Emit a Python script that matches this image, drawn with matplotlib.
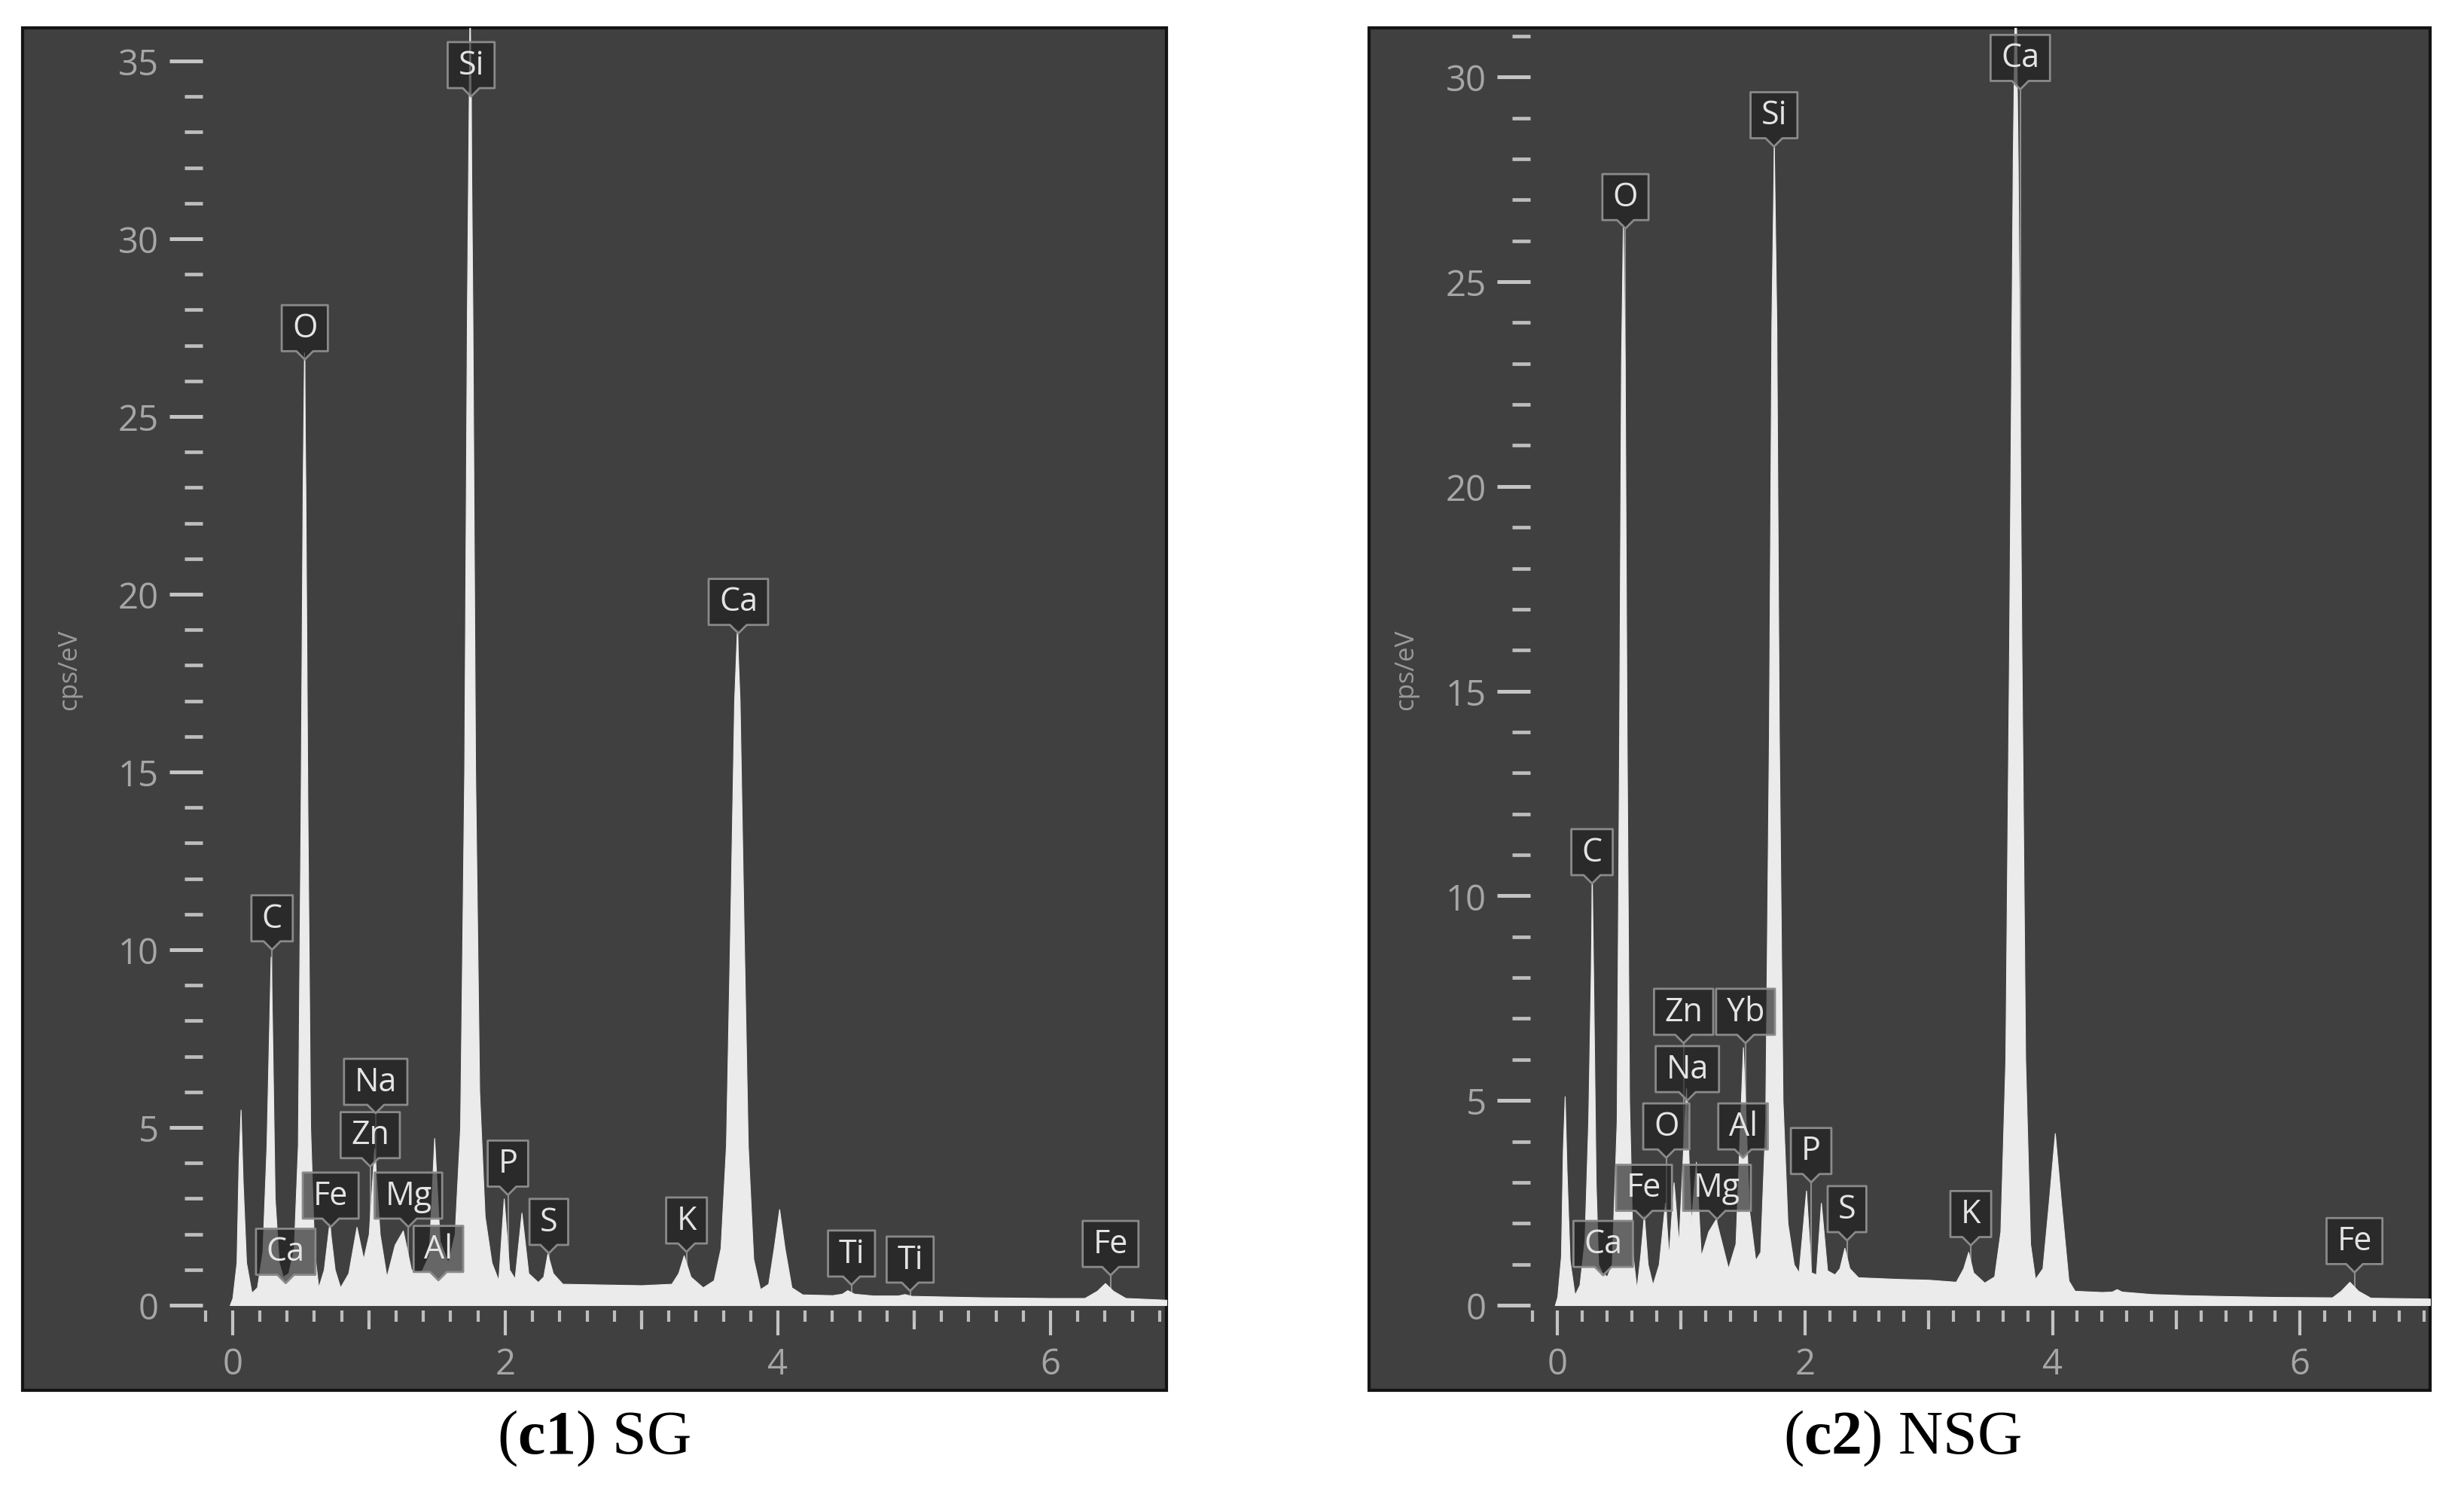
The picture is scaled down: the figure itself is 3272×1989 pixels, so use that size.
import matplotlib
matplotlib.use('Agg')
import matplotlib.pyplot as plt
from matplotlib.patches import Polygon, Rectangle
from matplotlib.transforms import Affine2D, ScaledTranslation
from matplotlib.ticker import MultipleLocator

plt.rcParams['font.family'] = ['Open Sans', 'DejaVu Sans']
plt.rcParams['mathtext.fontset'] = 'custom'
plt.rcParams['mathtext.rm'] = 'Liberation Serif'
plt.rcParams['mathtext.bf'] = 'Liberation Serif:bold'

# ---- SG spectrum (keV, cps/eV)
sg_kev = [-0.02, 0.00, 0.03, 0.045, 0.06, 0.075, 0.10, 0.14, 0.18, 0.22, 0.25, 0.27, 0.28, 0.29,
          0.31, 0.34, 0.37, 0.41, 0.45, 0.48, 0.50, 0.515, 0.525, 0.535, 0.55, 0.57, 0.60, 0.63,
          0.67, 0.71, 0.75, 0.79, 0.85, 0.91, 0.96, 1.00, 1.04, 1.08, 1.13, 1.19, 1.25, 1.31,
          1.38, 1.44, 1.48, 1.52, 1.58, 1.63, 1.67, 1.70, 1.72, 1.74, 1.76, 1.78, 1.81, 1.85,
          1.90, 1.95, 1.99, 2.03, 2.07, 2.12, 2.17, 2.24, 2.28, 2.31, 2.35, 2.42, 2.70, 3.00,
          3.22, 3.27, 3.31, 3.36, 3.45, 3.53, 3.58, 3.62, 3.65, 3.68, 3.70, 3.72, 3.75, 3.78,
          3.82, 3.87, 3.93, 3.97, 4.01, 4.05, 4.10, 4.18, 4.40, 4.47, 4.51, 4.56, 4.70, 4.88,
          4.93, 4.98, 5.50, 6.00, 6.25, 6.34, 6.40, 6.46, 6.55, 6.85]
sg_cps = [0.0, 0.2, 1.2, 4.0, 5.5, 3.5, 1.2, 0.35, 0.5, 1.5, 4.5, 8.0, 9.8, 8.0,
          3.0, 1.2, 0.8, 0.9, 1.6, 4.5, 14.0, 23.0, 26.8, 23.0, 14.0, 5.0, 1.5, 0.5,
          1.0, 2.3, 1.0, 0.5, 0.9, 2.2, 1.3, 2.0, 4.4, 2.0, 0.8, 1.7, 2.1, 1.0,
          0.9, 1.4, 4.7, 1.8, 1.2, 2.0, 5.0, 15.0, 28.0, 37.0, 28.0, 15.0, 6.0, 2.5,
          1.2, 0.7, 3.0, 1.0, 0.75, 2.6, 0.9, 0.65, 0.8, 1.45, 0.9, 0.6, 0.58, 0.56,
          0.6, 0.9, 1.4, 0.8, 0.5, 0.7, 1.6, 4.5, 10.5, 17.0, 19.0, 17.0, 10.5, 4.5,
          1.3, 0.45, 0.6, 1.6, 2.7, 1.6, 0.5, 0.3, 0.28, 0.32, 0.42, 0.32, 0.27, 0.27,
          0.31, 0.26, 0.22, 0.2, 0.2, 0.4, 0.62, 0.4, 0.2, 0.15]
sg_names = ['Ca', 'Zn', 'Na', 'Fe', 'Mg', 'Al', 'C', 'O', 'Si', 'P', 'S', 'K', 'Ca', 'Ti', 'Ti', 'Fe']
sg_name_kev = [0.39, 1.01, 1.05, 0.72, 1.29, 1.51, 0.29, 0.53, 1.75, 2.02, 2.32, 3.33, 3.71, 4.54, 4.97, 6.44]
sg_name_cps = [0.62, 3.9, 5.4, 2.2, 2.2, 0.7, 10.0, 26.6, 34.0, 3.1, 1.46, 1.5, 18.9, 0.57, 0.4, 0.84]

# ---- NSG spectrum
nsg_kev = [-0.02, 0.00, 0.03, 0.045, 0.06, 0.075, 0.10, 0.14, 0.18, 0.22, 0.25, 0.27, 0.28, 0.29,
           0.31, 0.33, 0.36, 0.40, 0.44, 0.48, 0.50, 0.515, 0.53, 0.545, 0.56, 0.58, 0.61, 0.64,
           0.67, 0.70, 0.73, 0.77, 0.82, 0.87, 0.90, 0.94, 0.98, 1.04, 1.08, 1.12, 1.16, 1.22,
           1.28, 1.33, 1.38, 1.44, 1.50, 1.55, 1.60, 1.64, 1.68, 1.71, 1.73, 1.75, 1.77, 1.79,
           1.82, 1.86, 1.91, 1.95, 2.01, 2.05, 2.09, 2.13, 2.18, 2.24, 2.28, 2.32, 2.36, 2.43,
           2.75, 3.00, 3.22, 3.28, 3.32, 3.36, 3.45, 3.53, 3.58, 3.62, 3.65, 3.68, 3.70, 3.72,
           3.75, 3.78, 3.82, 3.86, 3.92, 3.97, 4.02, 4.07, 4.13, 4.18, 4.40, 4.48, 4.52, 4.56,
           4.80, 5.10, 5.42, 5.80, 6.26, 6.33, 6.40, 6.47, 6.57, 7.05]
nsg_cps = [0.0, 0.2, 1.2, 3.8, 5.1, 3.3, 1.1, 0.25, 0.5, 1.6, 4.5, 8.0, 10.3, 8.0,
           3.0, 1.0, 0.8, 0.7, 1.0, 4.5, 14.0, 23.0, 26.4, 23.0, 14.0, 5.0, 1.2, 0.4,
           1.2, 2.2, 1.0, 0.5, 1.0, 2.5, 1.2, 3.0, 1.5, 5.3, 2.0, 3.5, 1.2, 1.8,
           2.1, 1.5, 0.9, 1.5, 6.3, 2.3, 1.1, 1.3, 4.5, 14.0, 24.0, 28.3, 24.0, 14.0,
           5.0, 2.0, 1.0, 0.8, 2.8, 0.8, 0.75, 2.5, 0.85, 0.75, 0.9, 1.4, 0.9, 0.68,
           0.64, 0.62, 0.57, 0.9, 1.3, 0.8, 0.55, 0.7, 1.8, 6.0, 16.0, 28.0, 33.0, 28.0,
           16.0, 6.0, 1.5, 0.64, 0.9, 2.5, 4.2, 2.5, 0.6, 0.35, 0.32, 0.33, 0.39, 0.33,
           0.27, 0.24, 0.22, 0.2, 0.19, 0.35, 0.57, 0.35, 0.18, 0.16]
nsg_names = ['Ca', 'Fe', 'Mg', 'O', 'Al', 'Na', 'Zn', 'Yb', 'C', 'O', 'Si', 'P', 'S', 'K', 'Ca', 'Fe']
nsg_name_kev = [0.37, 0.70, 1.29, 0.88, 1.50, 1.05, 1.02, 1.52, 0.28, 0.55, 1.75, 2.05, 2.34, 3.34, 3.74, 6.44]
nsg_name_cps = [0.73, 2.1, 2.1, 3.6, 3.6, 5.0, 6.4, 6.4, 10.3, 26.3, 28.3, 3.0, 1.58, 1.46, 29.7, 0.8]

captions = [r'($\mathbf{c1}$) SG', r'($\mathbf{c2}$) NSG']

BG = '#404040'
FILL = '#ebebeb'
BOX_H, NOTCH, V, PAD, LAB_FS = 44, 8, 8, 10, 31

fig = plt.figure(figsize=(32.72, 19.90), dpi=100)
renderer = fig.canvas.get_renderer()

# dark panels behind each spectrum
for x0, w in [(0.00917, 0.4642), (0.5556, 0.4306)]:
    fig.add_artist(Rectangle((x0, 0.0719), w, 0.909, transform=fig.transFigure,
                             facecolor=BG, edgecolor='#141414', lw=3, zorder=0))

ax1 = fig.add_axes([0.0822, 0.1251, 0.3912, 0.8558])
ax2 = fig.add_axes([0.6210, 0.1251, 0.3652, 0.8558])


def add_label(ax, name, x, y):
    t = ax.annotate(name, xy=(x, y), xytext=(0, NOTCH + BOX_H / 2), textcoords='offset points',
                    ha='center', va='center', fontsize=LAB_FS, color='#e4e4e4', zorder=6,
                    annotation_clip=False)
    hw = (t.get_window_extent(renderer).width * 72 / fig.dpi + 2 * PAD) / 2
    pts = [(0, 0), (-V, NOTCH), (-hw, NOTCH), (-hw, NOTCH + BOX_H),
           (hw, NOTCH + BOX_H), (hw, NOTCH), (V, NOTCH)]
    tr = Affine2D().scale(fig.dpi / 72) + ScaledTranslation(x, y, ax.transData)
    ax.add_patch(Polygon(pts, closed=True, transform=tr, facecolor=(0.12, 0.12, 0.12, 0.65),
                         edgecolor='#8a8a8a', lw=2, joinstyle='round', zorder=5, clip_on=False))


def draw_panel(ax, kev, cps, names, nkev, ncps, xmax, ymin, ymax, ytop, ylab_x):
    ax.set_xlim(-0.22, xmax)
    ax.set_ylim(ymin, ymax)
    ax.patch.set_visible(False)
    for s in ax.spines.values():
        s.set_visible(False)

    ax.vlines(nkev, 0, ncps, colors='#8c8c8c', lw=1.5, zorder=1)
    ax.fill_between(kev, cps, 0, facecolor=FILL, edgecolor=FILL, lw=0.8, zorder=2)

    ax.set_yticks(range(0, ytop + 1, 5))
    ax.yaxis.set_minor_locator(MultipleLocator(1))
    ax.set_xticks([0, 2, 4, 6])
    ax.xaxis.set_minor_locator(MultipleLocator(0.2))
    ax.tick_params(axis='y', which='major', direction='out', length=32, width=3.6,
                   color='#c4c4c4', labelsize=34, labelcolor='#a6a6a6', pad=10)
    ax.tick_params(axis='y', which='minor', direction='out', length=17, width=3.4, color='#bdbdbd')
    ax.tick_params(axis='x', which='major', direction='out', length=24, width=3,
                   color='#c4c4c4', labelsize=34, labelcolor='#a6a6a6', pad=10)
    ax.tick_params(axis='x', which='minor', direction='out', length=11, width=3, color='#bdbdbd')

    mid = ax.secondary_xaxis('bottom')
    mid.set_xticks([1, 3, 5])
    mid.tick_params(axis='x', direction='out', length=18, width=3, color='#c4c4c4', labelbottom=False)
    for s in mid.spines.values():
        s.set_visible(False)

    ax.set_ylabel('cps/eV', fontsize=25, color='#9a9a9a')
    ax.yaxis.set_label_coords(ylab_x, 0.5)

    for n, x, y in zip(names, nkev, ncps):
        add_label(ax, n, x, y)


draw_panel(ax1, sg_kev, sg_cps, sg_names, sg_name_kev, sg_name_cps, 6.85, -0.15, 35.93, 35, -0.125)
draw_panel(ax2, nsg_kev, nsg_cps, nsg_names, nsg_name_kev, nsg_name_cps, 7.05, -0.13, 31.2, 30, -0.124)

for xc, cap in zip([0.2411, 0.772], captions):
    fig.text(xc, 0.0402, cap, ha='center', va='center', fontsize=59,
             family='Liberation Serif', color='black')

fig.savefig('out.png', dpi=100, facecolor='white')
